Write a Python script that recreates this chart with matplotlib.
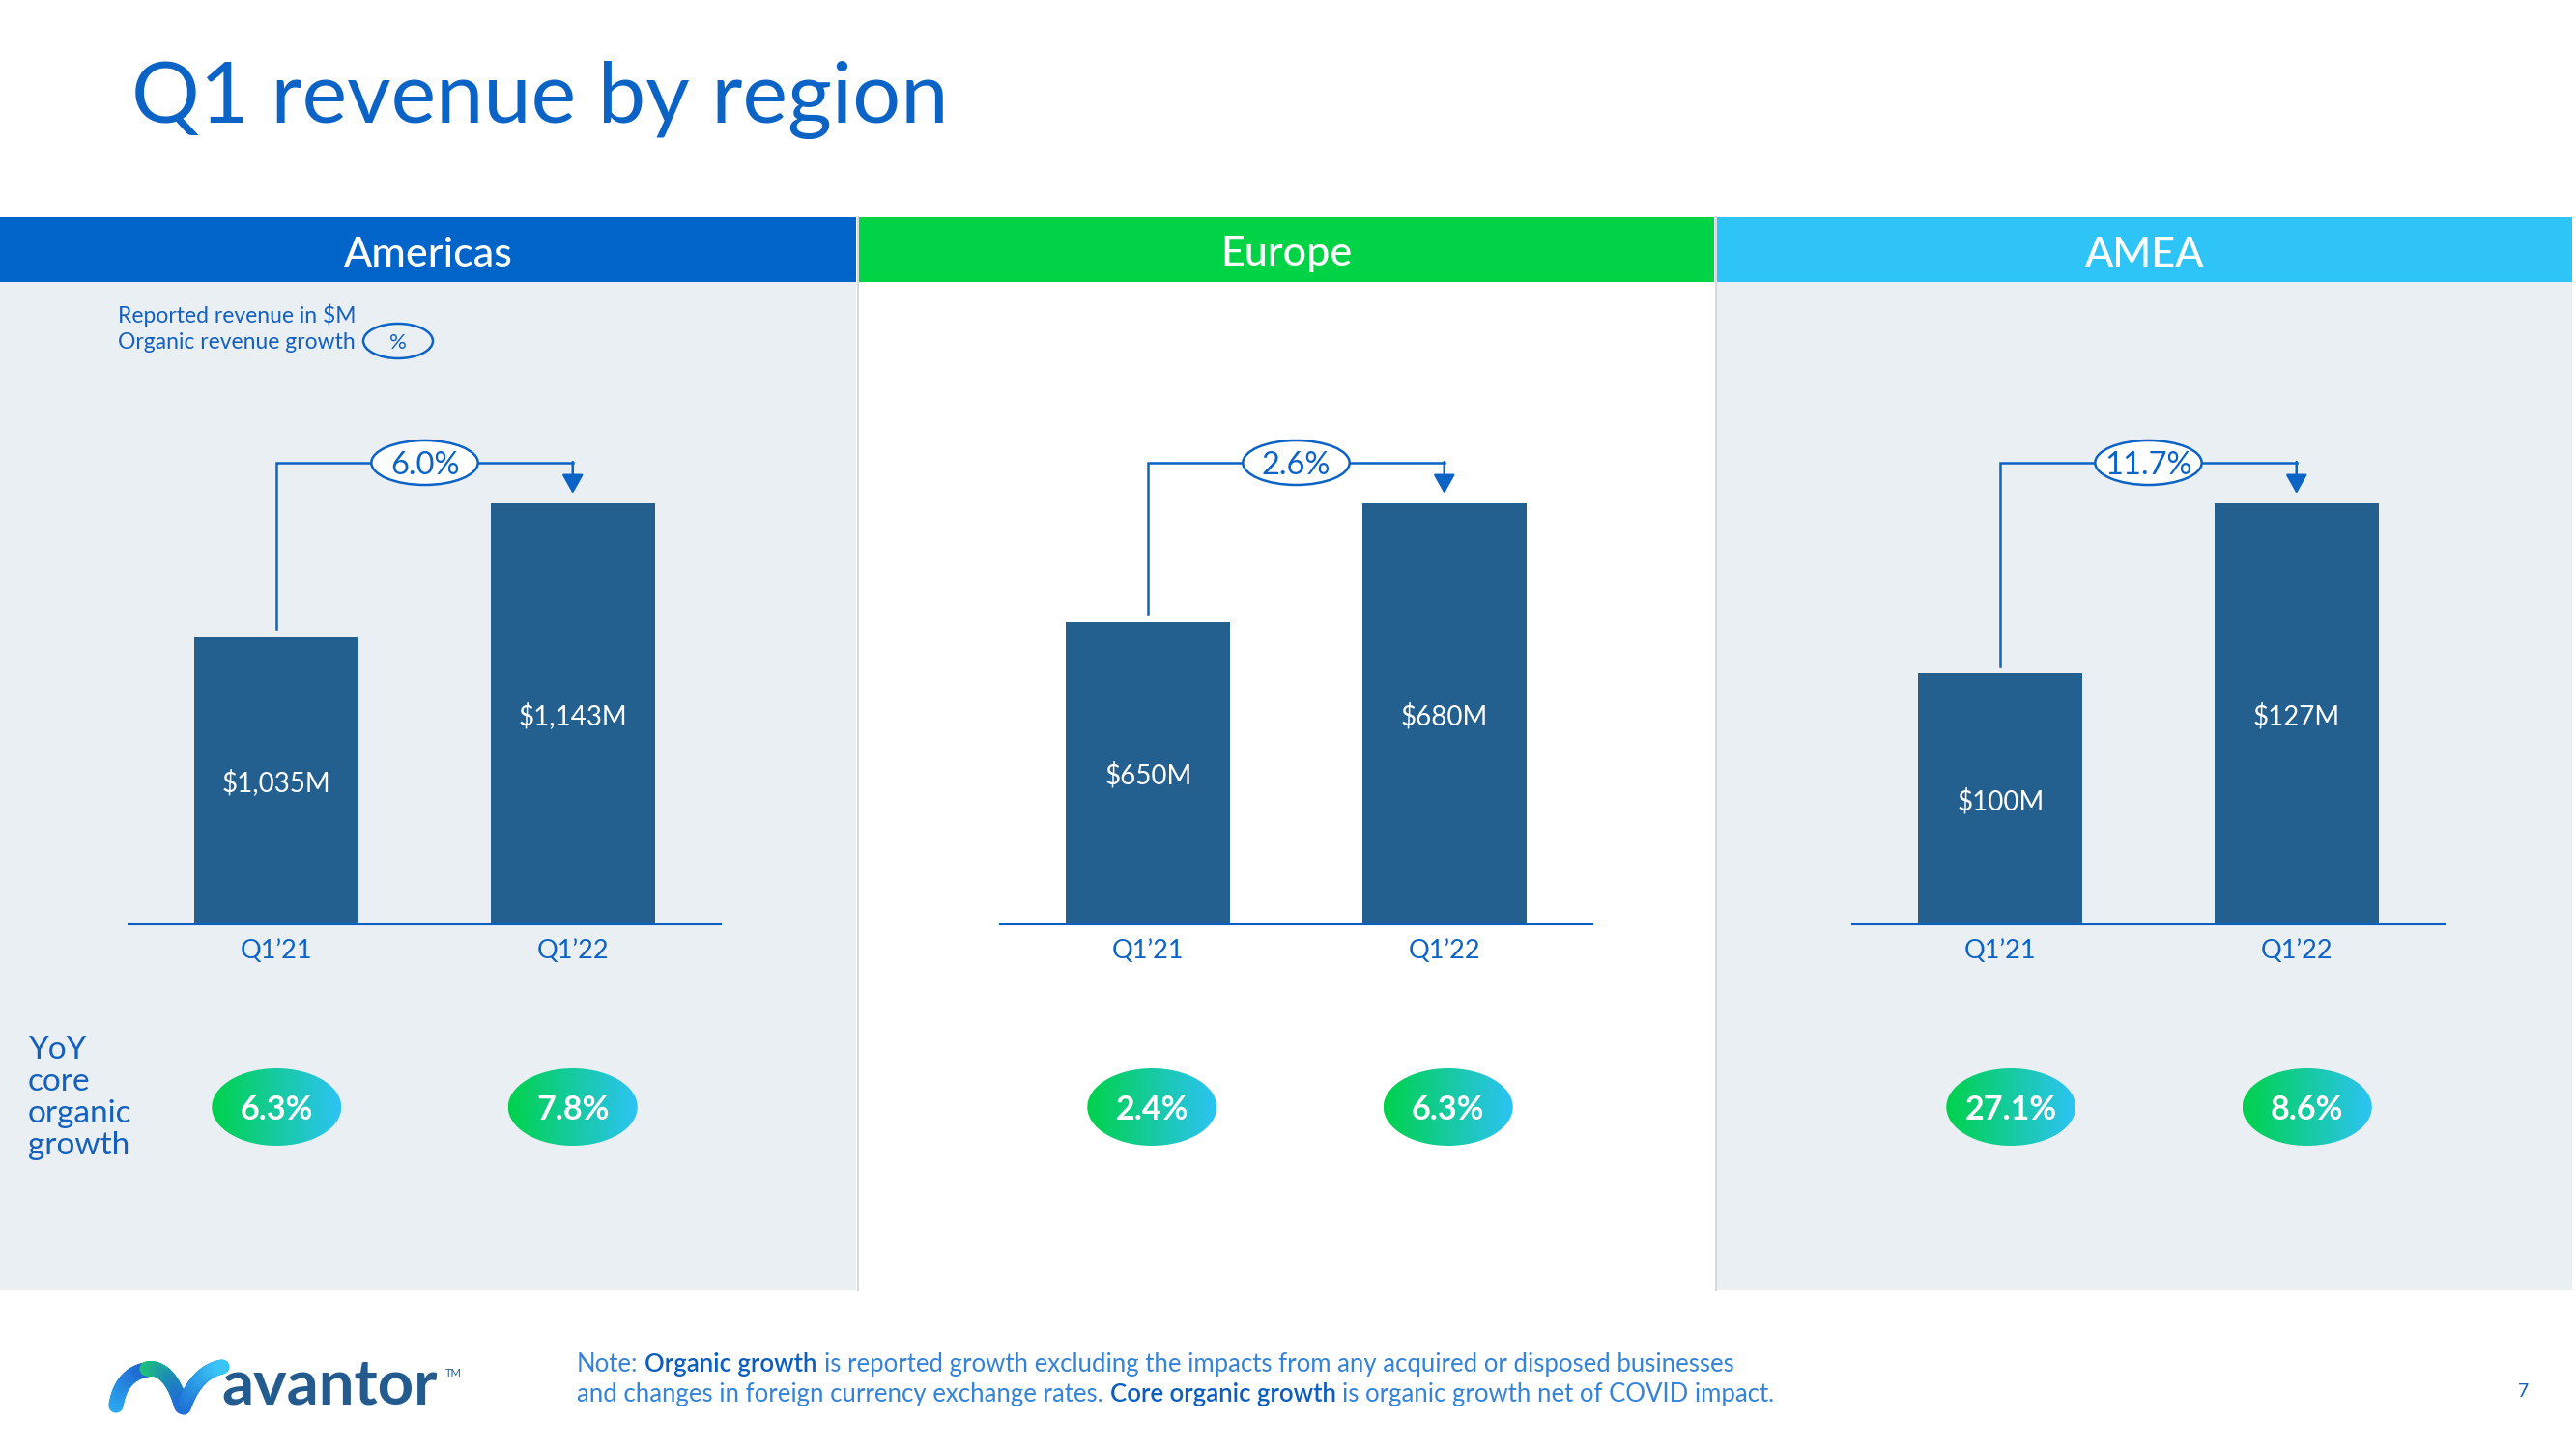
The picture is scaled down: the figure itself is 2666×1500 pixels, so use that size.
import matplotlib
matplotlib.use('Agg')
import matplotlib.pyplot as plt
import matplotlib.transforms as mtransforms
from matplotlib.patches import Rectangle, Ellipse
from matplotlib.collections import LineCollection
from matplotlib.colors import LinearSegmentedColormap
import numpy as np

plt.rcParams['font.family'] = ['Lato', 'DejaVu Sans']

# ---------------- data ----------------
regions = ['Americas', 'Europe', 'AMEA']
periods = ['Q1\u201921', 'Q1\u201922']
revenue_q121 = [1035, 650, 100]
revenue_q122 = [1143, 680, 127]
organic_growth = ['6.0%', '2.6%', '11.7%']
core_growth_q121 = ['6.3%', '2.4%', '27.1%']
core_growth_q122 = ['7.8%', '6.3%', '8.6%']
axis_floor = [802, 574, 60]          # truncated value axis (per panel)

# ---------------- style ----------------
BLUE = '#0B63C6'
TXT = '#1460BE'
BAR = '#24608F'
PANEL_BG = ['#EAEFF4', '#FFFFFF', '#EAEFF4']
HEAD_COL = ['#0064C9', '#00D446', '#2EC4F7']

W, H = 2666, 1500
fig = plt.figure(figsize=(W / 100, H / 100), dpi=100)
fig.patch.set_facecolor('white')
bg = fig.add_axes([0, 0, 1, 1])
bg.set_xlim(0, W)
bg.set_ylim(0, H)
bg.axis('off')


def Y(y):
    return H - y


# title
bg.text(136, Y(127), 'Q1 revenue by region', fontsize=63.5, color=BLUE,
        ha='left', va='baseline')

# panels and headers
panels = [(0, 886), (889, 1774), (1777, 2662)]
for i, (x0, x1) in enumerate(panels):
    bg.add_patch(Rectangle((x0, Y(1335)), x1 - x0, 1335 - 292,
                           fc=PANEL_BG[i], ec='none', zorder=0))
    bg.add_patch(Rectangle((x0, Y(292)), x1 - x0, 292 - 225,
                           fc=HEAD_COL[i], ec='none', zorder=1))
    bg.text((x0 + x1) / 2, Y(260), regions[i], color='white', fontsize=31,
            fontweight='medium', ha='center', va='center_baseline', zorder=2)
for xs in (887.5, 1775.5):
    bg.plot([xs, xs], [Y(1335), Y(225)], color='#D6DBE1', lw=1.5, zorder=1)

# legend (top-left)
bg.text(122, Y(334), 'Reported revenue in $M', fontsize=16.5, color=TXT,
        ha='left', va='baseline', zorder=3)
bg.text(122, Y(361), 'Organic revenue growth', fontsize=16.5, color=TXT,
        ha='left', va='baseline', zorder=3)
bg.add_patch(Ellipse((412, Y(353)), 72, 36, fc='none', ec=BLUE, lw=1.8, zorder=3))
bg.text(412, Y(353), '%', fontsize=16, color=TXT, ha='center',
        va='center_baseline', zorder=4)

# YoY core organic growth label
for k, word in enumerate(['YoY', 'core', 'organic', 'growth']):
    bg.text(29, Y(1096 + 33 * k), word, fontsize=24, color=TXT,
            ha='left', va='baseline', zorder=3)

# bar axes
ax_x0 = [133, 1035, 1917]
ax_w = 613
ax_bottom, ax_top = 957, 521
bubble_dx = [0, 4, 11]
grad = LinearSegmentedColormap.from_list('g', ['#00D24B', '#2DC3F5'])
gimg = np.linspace(0, 1, 256).reshape(1, -1)

for i in range(3):
    ax = fig.add_axes([ax_x0[i] / W, (H - ax_bottom) / H, ax_w / W,
                       (ax_bottom - ax_top) / H])
    ax.set_facecolor('none')
    lo, hi = axis_floor[i], revenue_q122[i]
    ax.set_xlim(-0.5, 1.5)
    ax.set_ylim(lo, hi)
    vals = [revenue_q121[i], revenue_q122[i]]
    ax.bar([0, 1], vals, width=0.555, color=BAR, zorder=2)
    for j, v in enumerate(vals):
        ax.text(j, (v + lo) / 2, f'${v:,}M', color='white', fontsize=20,
                fontweight='normal', ha='center', va='center_baseline', zorder=3)
    for s in ('top', 'left', 'right'):
        ax.spines[s].set_visible(False)
    ax.spines['bottom'].set_color('#0A5FC0')
    ax.spines['bottom'].set_linewidth(1.5)
    ax.set_yticks([])
    ax.set_xticks([0, 1])
    ax.set_xticklabels(periods, fontsize=19.5, color=BLUE)
    ax.tick_params(axis='x', length=0, pad=11)

    # growth bracket
    trans = mtransforms.blended_transform_factory(ax.transData, ax.transAxes)
    px = 1.0 / (ax_bottom - ax_top)
    yh = (ax_bottom - 479) * px
    yl = (vals[0] - lo) / (hi - lo) + 8 * px
    ya = 1 + 10 * px
    ax.plot([0, 0, 1], [yl, yh, yh], transform=trans, color=BLUE, lw=1.8,
            clip_on=False, solid_joinstyle='miter', zorder=4)
    ax.annotate('', xy=(1, ya), xytext=(1, yh + 0.9 * px), xycoords=trans,
                textcoords=trans, annotation_clip=False,
                arrowprops=dict(arrowstyle='-|>,head_length=0.8,head_width=0.45',
                                color=BLUE, lw=1.8, shrinkA=0, shrinkB=0,
                                mutation_scale=15), zorder=4)
    ax.add_patch(Ellipse((0.5, yh), 0.36, 46 * px, transform=trans, fc='white',
                         ec=BLUE, lw=1.8, clip_on=False, zorder=5))
    ax.text(0.5, yh, organic_growth[i], transform=trans, fontsize=23.5,
            color=BLUE, ha='center', va='center_baseline', zorder=6)

    # core organic growth bubbles
    for j, txt in enumerate([core_growth_q121[i], core_growth_q122[i]]):
        cx = ax.transData.transform((j, lo))[0] + bubble_dx[i]
        cy = Y(1146)
        el = Ellipse((cx, cy), 134, 80, fc='none', ec='none', zorder=3)
        bg.add_patch(el)
        im = bg.imshow(gimg, cmap=grad, extent=[cx - 67, cx + 67, cy - 40, cy + 40],
                       aspect='auto', zorder=3, interpolation='bilinear')
        im.set_clip_path(el)
        bg.text(cx, cy, txt, color='white', fontsize=24.5, fontweight='bold',
                ha='center', va='center_baseline', zorder=4)

# footnote with bold parts
NOTE = '#3483D6'
NOTE_B = '#0B5EBE'
gap = 5.0
lines = [
    [('Note:', False), ('Organic growth', True),
     ('is reported growth excluding the impacts from any acquired or disposed businesses', False)],
    [('and changes in foreign currency exchange rates.', False), ('Core organic growth', True),
     ('is organic growth net of COVID impact.', False)],
]
for li, parts in enumerate(lines):
    prev = None
    for txt, bold, in parts:
        kw = dict(fontsize=18.5, color=NOTE_B if bold else NOTE,
                  fontweight='semibold' if bold else 'normal', zorder=3)
        if prev is None:
            prev = bg.text(597, Y(1420 + 31 * li), txt, ha='left', va='baseline', **kw)
        else:
            prev = bg.annotate(txt, xy=(1, 0), xycoords=prev, xytext=(gap, 0),
                               textcoords='offset points', ha='left', va='bottom', **kw)

# page number
bg.text(2612, Y(1446), '7', fontsize=14, color=TXT, ha='center', va='baseline')

# logo
bg.text(229, Y(1453), 'avantor', fontsize=47, fontweight='bold', color='#245B8F',
        ha='left', va='baseline')
bg.text(461, Y(1416), 'TM', fontsize=8, color='#245B8F', ha='left', va='top')


def ribbon(p0, p1, p2, c0, c1, lw):
    t = np.linspace(0, 1, 40)[:, None]
    pts = (1 - t) ** 2 * np.array(p0) + 2 * (1 - t) * t * np.array(p1) + t ** 2 * np.array(p2)
    pts[:, 1] = H - pts[:, 1]
    segs = np.stack([pts[:-1], pts[1:]], axis=1)
    cm = LinearSegmentedColormap.from_list('r', [c0, c1])
    lc = LineCollection(segs, colors=cm(np.linspace(0, 1, len(segs))),
                        linewidths=lw, capstyle='round', zorder=3)
    bg.add_collection(lc)


ribbon((120, 1455), (126, 1418), (160, 1417), '#2AA8F0', '#1E5FCC', 11)
ribbon((152, 1417), (176, 1414), (188, 1456), '#1CC37A', '#1E6FD6', 11)
ribbon((190, 1457), (203, 1420), (230, 1415), '#1E6FD6', '#39C4F5', 11)

bg.set_xlim(0, W)
bg.set_ylim(0, H)
fig.savefig('out.png', dpi=100, facecolor='white')
